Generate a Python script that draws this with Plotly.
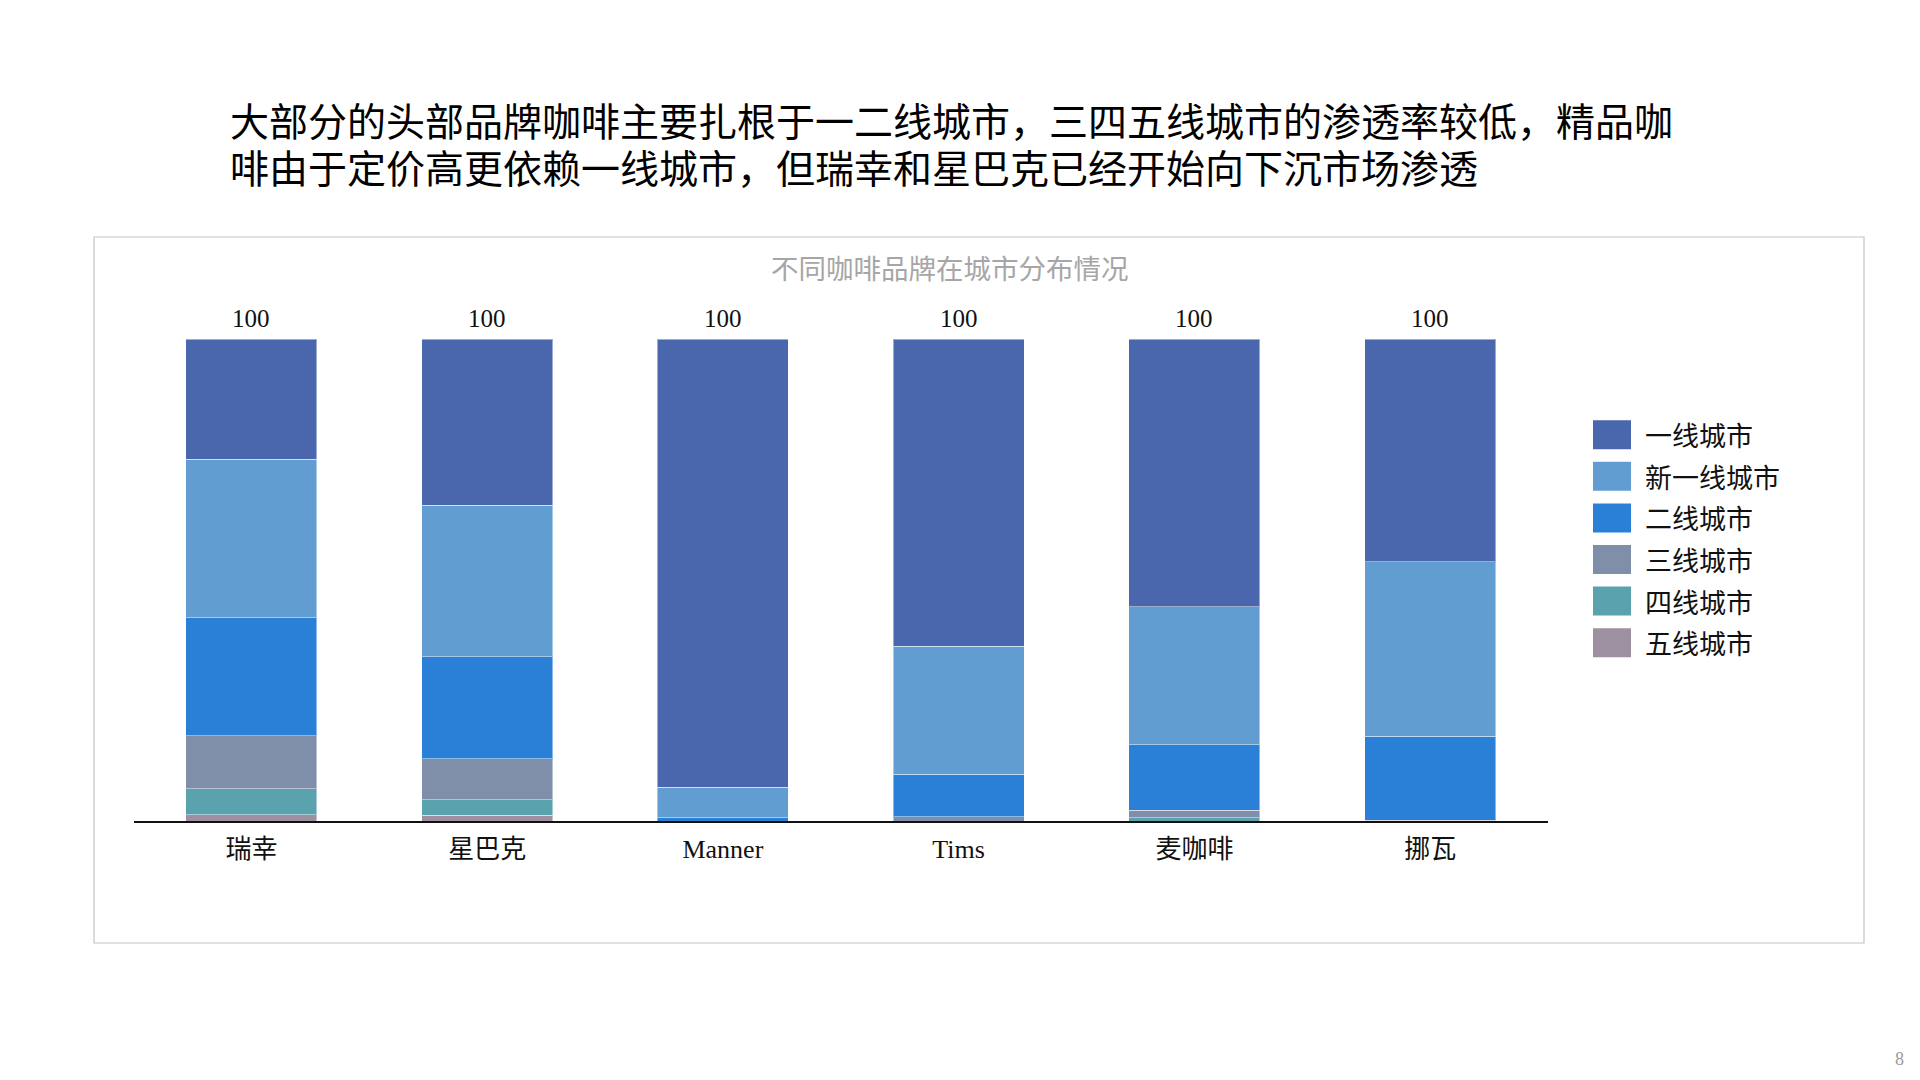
import plotly.graph_objects as go

W, H = 1920, 1080
OFF = 8  # 页面 body 默认留白

brands = ["瑞幸", "星巴克", "Manner", "Tims", "麦咖啡", "挪瓦"]

tier_names = ["一线城市", "新一线城市", "二线城市", "三线城市", "四线城市", "五线城市"]
tier_colors = ["#4A67AE", "#629DD1", "#2A7FD7", "#7F8FA9", "#5AA2AE", "#9D90A0"]

tier1 = [24.9, 34.5, 93.0, 63.7, 55.5, 46.2]
new_tier1 = [32.9, 31.4, 6.3, 26.6, 28.7, 36.2]
tier2 = [24.5, 21.2, 0.7, 8.8, 13.6, 17.4]
tier3 = [11.0, 8.5, 0.0, 0.9, 1.5, 0.2]
tier4 = [5.4, 3.2, 0.0, 0.0, 0.7, 0.0]
tier5 = [1.3, 1.2, 0.0, 0.0, 0.0, 0.0]

series = [tier1, new_tier1, tier2, tier3, tier4, tier5]

title_lines = ["大部分的头部品牌咖啡主要扎根于一二线城市，三四五线城市的渗透率较低，精品咖",
               "啡由于定价高更依赖一线城市，但瑞幸和星巴克已经开始向下沉市场渗透"]
chart_title = "不同咖啡品牌在城市分布情况"

cjk = "Noto Sans CJK SC"
serif_cjk = "Liberation Serif, Noto Sans CJK SC"

fig = go.Figure()

# 从五线往上堆叠，一线在最上面
for name, color, vals in reversed(list(zip(tier_names, tier_colors, series))):
    fig.add_trace(go.Bar(
        x=brands, y=vals, name=name,
        marker=dict(color=color, line=dict(color="rgba(255,255,255,0.45)", width=1)),
        showlegend=False, hoverinfo="x+y+name"
    ))

totals = [sum(v) for v in zip(*series)]


def px_x(v):
    return (v - OFF) / W


def px_y(v):
    return 1 - (v - OFF) / H


shapes = [
    # 图表外框
    dict(type="rect", xref="paper", yref="paper",
         x0=px_x(94), x1=px_x(1864), y0=px_y(943), y1=px_y(237),
         line=dict(color="#C4C4C4", width=1.2), fillcolor="rgba(0,0,0,0)", layer="below"),
]

annotations = [
    dict(text=chart_title, xref="paper", yref="paper", x=px_x(950), y=px_y(267),
         xanchor="center", yanchor="middle", showarrow=False,
         font=dict(family=cjk, size=27.5, color="#A6A6A6")),
    dict(text="8", xref="paper", yref="paper", x=px_x(1899), y=px_y(1059),
         xanchor="center", yanchor="middle", showarrow=False,
         font=dict(family="Liberation Serif", size=18, color="#9A9A9A")),
]

for i, line in enumerate(title_lines):
    annotations.append(dict(text=line, xref="paper", yref="paper", x=px_x(228), y=px_y(119 + 47 * i),
                            xanchor="left", yanchor="middle", align="left", showarrow=False,
                            font=dict(family=cjk, size=39, color="#000000")))

# 柱顶合计
for b, t in zip(brands, totals):
    annotations.append(dict(text=f"{t:.0f}", x=b, y=t, xref="x", yref="y",
                            xanchor="center", yanchor="bottom", yshift=5, showarrow=False,
                            font=dict(family=serif_cjk, size=25, color="#111111")))

# 自定义图例
for i, (name, color) in enumerate(zip(tier_names, tier_colors)):
    yc = 434.7 + 41.6 * i
    shapes.append(dict(type="rect", xref="paper", yref="paper",
                       x0=px_x(1593), x1=px_x(1631), y0=px_y(yc + 14.5), y1=px_y(yc - 14.5),
                       line=dict(width=0), fillcolor=color))
    annotations.append(dict(text=name, xref="paper", yref="paper", x=px_x(1643), y=px_y(yc),
                            xanchor="left", yanchor="middle", showarrow=False,
                            font=dict(family=cjk, size=27, color="#111111")))

fig.update_layout(
    width=W, height=H,
    margin=dict(l=0, r=0, t=0, b=0),
    paper_bgcolor="white", plot_bgcolor="white",
    barmode="stack", bargap=0.444,
    shapes=shapes, annotations=annotations,
    xaxis=dict(domain=[px_x(133.5), px_x(1548)], showline=True, linecolor="#111111", linewidth=1.6,
               showgrid=False, zeroline=False, ticks="", ticklabelstandoff=4,
               tickfont=dict(family=serif_cjk, size=26, color="#111111")),
    yaxis=dict(domain=[px_y(821), px_y(339)], range=[0, 100], visible=False, fixedrange=True),
)

fig.write_html("out.html")
